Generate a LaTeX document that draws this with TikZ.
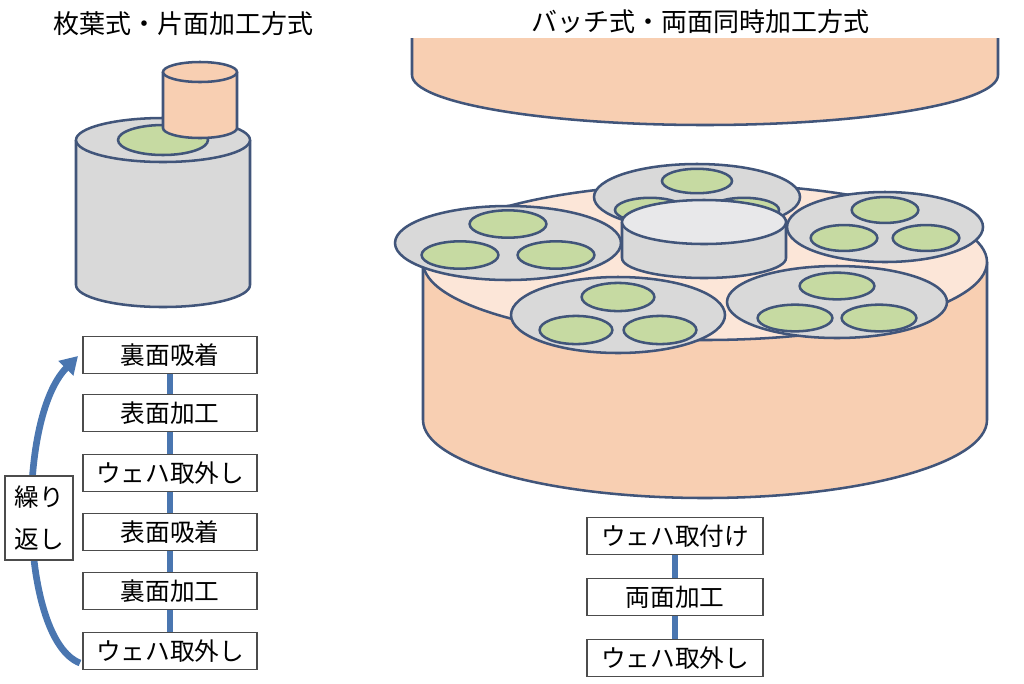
\documentclass[tikz,border=0pt]{standalone}
\usepackage{fontspec}
\setmainfont{Noto Sans CJK JP}
\usetikzlibrary{arrows.meta}
\definecolor{ol}{HTML}{41557A}
\definecolor{gr}{HTML}{D9D9D9}
\definecolor{gl}{HTML}{E8E8EA}
\definecolor{og}{HTML}{F8CFB2}
\definecolor{ol2}{HTML}{FCE6D8}
\definecolor{gn}{HTML}{C6DAA2}
\definecolor{bl}{HTML}{4A76B0}
\begin{document}
\begin{tikzpicture}[x=0.75pt,y=-0.75pt,
  sh/.style={draw=ol,line width=1.9pt},
  box/.style={draw=black!70,line width=0.8pt,fill=white,minimum width=130.5pt,minimum height=28pt,inner sep=0pt,font=\fontsize{18.5}{20}\selectfont},
  tt/.style={font=\fontsize{19.5}{20}\selectfont},
  lnk/.style={bl,line width=5pt}]
\useasboundingbox (0,0) rectangle (1024,683);
% left cylinder
\fill[gr] (76,140) -- (76,285) arc[start angle=180,end angle=0,x radius=87,y radius=22] -- (250,140) -- cycle;
\draw[sh] (76,140) -- (76,285) arc[start angle=180,end angle=0,x radius=87,y radius=22] -- (250,140);
\draw[sh,fill=gr] (163,140) ellipse[x radius=87,y radius=22];
\draw[sh,fill=gn] (163,140) ellipse[x radius=45,y radius=15];
% small cylinder
\draw[sh,fill=og] (163,72) -- (163,128) arc[start angle=180,end angle=0,x radius=37,y radius=10] -- (237,72);
\draw[sh,fill=og] (200,72) ellipse[x radius=37,y radius=10];
% top upper platen
\fill[og] (412,38) -- (412,75) arc[start angle=180,end angle=0,x radius=293,y radius=50] -- (998,38) -- cycle;
\draw[sh] (412,38) -- (412,75) arc[start angle=180,end angle=0,x radius=293,y radius=50] -- (998,38);
% lower platen
\draw[sh,fill=og] (423,262) -- (423,420) arc[start angle=180,end angle=0,x radius=282,y radius=78] -- (987,262);
\draw[sh,fill=ol2] (705,262) ellipse[x radius=282,y radius=78];
% carriers
\newcommand\carrier[7]{%
  \draw[sh,fill=gr] (#1,#2) ellipse[x radius=#3,y radius=#4];
  \draw[sh,fill=gn] (#1,#2-#5) ellipse[x radius=0.34*#3,y radius=0.37*#4];
  \draw[sh,fill=gn] (#1-#6,#2+#7) ellipse[x radius=0.34*#3,y radius=0.37*#4];
  \draw[sh,fill=gn] (#1+#6,#2+#7) ellipse[x radius=0.34*#3,y radius=0.37*#4];}
\carrier{697}{197}{103}{33}{16}{47}{13}
% central cylinder
\draw[sh,fill=gr] (622,222) -- (622,258) arc[start angle=180,end angle=0,x radius=82,y radius=20] -- (786,222);
\draw[sh,fill=gl] (704,222) ellipse[x radius=82,y radius=22];
\carrier{508}{243}{113}{37}{19}{48}{12}
\carrier{885}{227}{98}{35}{17}{41}{11}
\carrier{618}{315}{107}{38}{18}{42}{15}
\carrier{837}{302}{110}{36}{16}{42}{16}
% titles
\node[tt] (t1) at (183,24) {枚葉式・片面加工方式};
\node[tt] (t2) at (700,22) {バッチ式・両面同時加工方式};
% left boxes
\node[box] (a1) at (170,355) {裏面吸着};
\node[box] (a2) at (170,413) {表面加工};
\node[box] (a3) at (170,473) {ウェハ取外し};
\node[box] (a4) at (170,532) {表面吸着};
\node[box] (a5) at (170,591) {裏面加工};
\node[box] (a6) at (170,651) {ウェハ取外し};
\foreach \u/\v in {a1/a2,a2/a3,a3/a4,a4/a5,a5/a6} \draw[lnk] (\u) -- (\v);
\coordinate (ls) at (80,663);
\coordinate (le) at (78,356);
\draw[bl,line width=5pt,-{Triangle[length=13pt,width=15pt]}] (ls) .. controls (20,640) and (15,420) .. (le);
\node[box,minimum width=51pt,minimum height=63pt,align=center,font=\fontsize{18.5}{31}\selectfont] (rep) at (39,518) {繰り\\返し};
% right boxes
\node[box,minimum width=132pt] (b1) at (675,536) {ウェハ取付け};
\node[box,minimum width=132pt] (b2) at (675,597) {両面加工};
\node[box,minimum width=132pt] (b3) at (675,658) {ウェハ取外し};
\draw[lnk] (b1) -- (b2);
\draw[lnk] (b2) -- (b3);
\end{tikzpicture}
\end{document}
